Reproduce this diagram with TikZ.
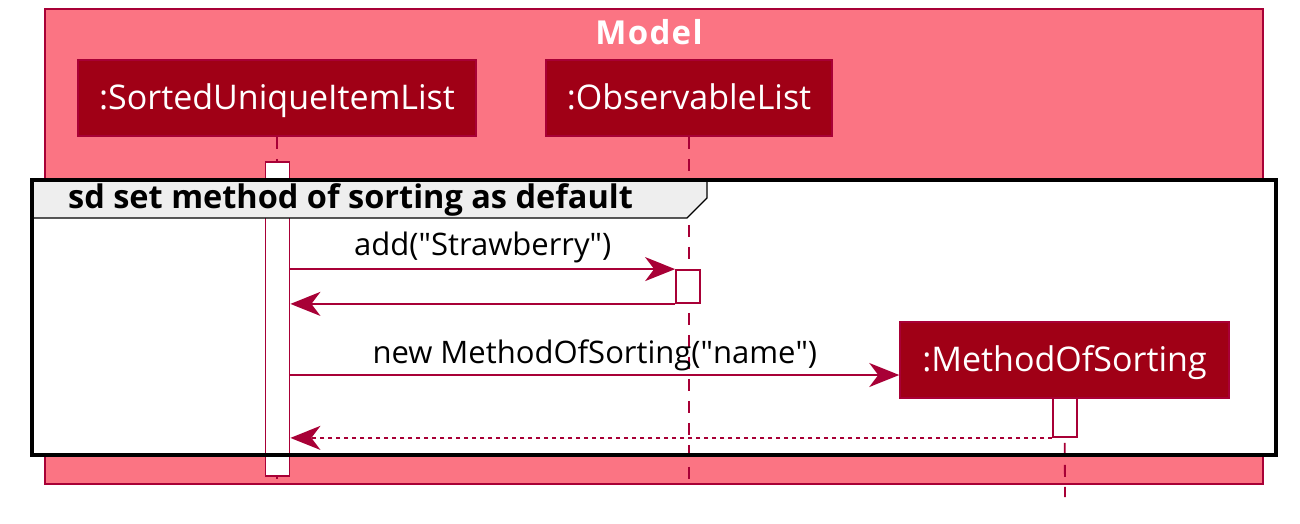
\documentclass[tikz,border=0pt]{standalone}
\usepackage{fontspec}
\setmainfont{Open Sans}
\definecolor{modelpink}{RGB}{251,116,131}
\definecolor{crimson}{RGB}{168,0,54}
\definecolor{partred}{RGB}{160,0,22}
\definecolor{tabgrey}{RGB}{238,238,238}
\usetikzlibrary{calc, positioning, arrows.meta}

\tikzset{
  participant/.style={draw=crimson, fill=partred, line width=1.5pt, text=white,
    font=\fontsize{34}{40}\selectfont, inner sep=0pt, minimum height=76pt,
    text height=26pt, text depth=4pt},
  actbar/.style={draw=crimson, fill=white, line width=1.8pt, inner sep=0pt, minimum width=24pt},
  lifeline/.style={crimson, line width=1.8pt, dash pattern=on 12pt off 10pt},
  msg/.style={crimson, line width=1.8pt, -{Stealth[length=30pt, width=24pt, inset=9pt]}},
  reply/.style={msg, dash pattern=on 4pt off 4pt},
  msglabel/.style={font=\fontsize{31}{36}\selectfont, text=black, anchor=base, inner sep=0pt},
}

\begin{document}
\begin{tikzpicture}[x=1pt, y=-1pt]
\useasboundingbox (0,0) rectangle (1300,523);

% --- Model package ---
\node[draw=crimson, fill=modelpink, line width=1.5pt, inner sep=0pt,
  minimum width=1218pt, minimum height=475pt] (modelBox) at (654, 246.5) {};
\node[font=\fontsize{33}{38}\selectfont\bfseries\addfontfeature{LetterSpace=4}, text=white,
  anchor=base, inner sep=0pt] (modelTitle) at (649, 44) {Model};

% --- Participants ---
\node[participant, minimum width=398pt] (sortBox) at (277, 98) {:SortedUniqueItemList};
\node[participant, minimum width=286pt] (obsBox) at (689, 98) {:ObservableList};

% --- Fragment background ---
\fill[white] (32, 180) rectangle (1276, 455);

% --- Lifelines ---
\draw[lifeline] (sortBox.south) -- (sortBox.south |- modelBox.south);
\draw[lifeline] (obsBox.south) -- (obsBox.south |- modelBox.south);

% --- Activation bars ---
\node[actbar, minimum height=314pt] (sortAct) at (277.5, 319) {};
\node[actbar, minimum height=33pt] (obsAct) at (688, 286.5) {};

% --- Created participant ---
\node[participant, minimum width=329pt] (methodBox) at (1064.5, 360) {:MethodOfSorting};
\coordinate (methodIn) at ([yshift=-15pt]methodBox.west);
\coordinate (methodEnd) at (1065, 497);
\draw[lifeline] (methodBox.south) -- (methodEnd);
\node[actbar, minimum height=39pt] (methodAct) at (1065, 417.5) {};

% --- Messages ---
\draw[msg] (sortAct.east |- obsAct.north) -- (obsAct.north west);
\node[msglabel] (addLabel) at ($(sortAct.east |- obsAct.north)!0.5!(obsAct.north west) + (0,-14)$)
  {add(\textquotedbl Strawberry\textquotedbl)};
\draw[msg] (obsAct.south west) -- (sortAct.east |- obsAct.south);

\draw[msg] (sortAct.east |- methodIn) -- (methodIn);
\node[msglabel] (newLabel) at ($(sortAct.east |- methodIn)!0.5!(methodIn) + (0,-12)$)
  {new MethodOfSorting(\textquotedbl name\textquotedbl)};
\draw[reply] (methodAct.south west) -- (sortAct.east |- methodAct.south);

% --- Fragment frame ---
\fill[tabgrey, draw=black, line width=1.2pt] (32, 180) -- (707, 180) -- (707, 198) -- (687, 218) -- (32, 218) -- cycle;
\node[font=\fontsize{32.5}{36}\selectfont\bfseries, anchor=base west, inner sep=0pt] (sdLabel) at (68, 208)
  {sd set method of sorting as default};
\draw[black, line width=4pt] (32, 180) rectangle (1276, 455);

\end{tikzpicture}
\end{document}
